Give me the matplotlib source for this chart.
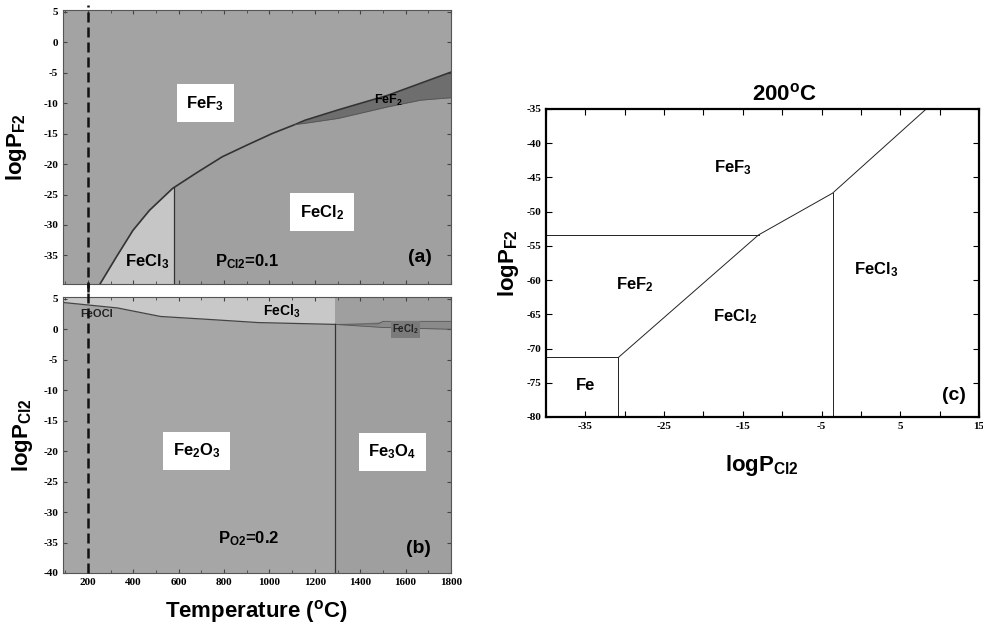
import numpy as np
import matplotlib
matplotlib.use("Agg")
import matplotlib.pyplot as plt

plt.rcParams['font.family'] = ['Liberation Sans', 'DejaVu Sans']
plt.rcParams['mathtext.fontset'] = 'custom'
plt.rcParams['mathtext.rm'] = 'Liberation Sans:bold'
plt.rcParams['mathtext.it'] = 'Liberation Sans:bold'
plt.rcParams['mathtext.bf'] = 'Liberation Sans:bold'
plt.rcParams['axes.unicode_minus'] = False

# ---- (a) logPF2 vs T, PCl2 = 0.1 ----
t_fef3 = [253, 326, 398, 471, 573, 676, 792, 900, 1011, 1113, 1157, 1303, 1522, 1800]
p_fef3 = [-39.7, -35.2, -30.9, -27.6, -24.0, -21.5, -18.8, -16.9, -15.0, -13.5, -12.8, -11.1, -8.7, -4.9]
t_fef2 = [1113, 1157, 1303, 1522, 1667, 1800]
p_fef2 = [-13.5, -13.3, -12.5, -10.6, -9.5, -9.1]
t_fecl3_a = 580

# ---- (b) logPCl2 vs T, PO2 = 0.2 ----
t_top_b = [90, 330, 520, 740, 950, 1290]
p_top_b = [4.4, 3.5, 2.1, 1.6, 1.1, 0.8]
t_cl3cl2 = [1290, 1480, 1500, 1800]
p_cl3cl2 = [0.8, 0.9, 1.3, 1.3]
t_cl2ox = [1290, 1500, 1800]
p_cl2ox = [0.8, 0.3, 0.0]
t_fe3o4 = 1290

# ---- (c) 200 C stability diagram ----
fe_x = [-40, -30.8, -30.8]
fe_y = [-71.3, -71.3, -80]
fef2_x = [-40, -13.0]
fef2_y = [-53.4, -53.4]
diag_x = [-30.8, -13.0, -3.6, 8.3]
diag_y = [-71.3, -53.4, -47.3, -35]
vert_x = [-3.6, -3.6]
vert_y = [-47.3, -80]

xlim_t = (90, 1800)
t_ticks = [200, 400, 600, 800, 1000, 1200, 1400, 1600, 1800]

fig = plt.figure(figsize=(9.83, 6.30), dpi=100)
ax_a = fig.add_axes([0.0641, 0.5492, 0.3947, 0.4349])
ax_b = fig.add_axes([0.0641, 0.0905, 0.3947, 0.4381])
ax_c = fig.add_axes([0.5554, 0.3381, 0.4405, 0.4889])

tick_font = dict(family='Liberation Serif', size=8, weight='bold')
lab_kw = dict(fontsize=12, fontweight='bold')
box = dict(facecolor='white', edgecolor='none', pad=7)

# panel (a)
ax_a.set_facecolor('#a3a3a3')
tt = np.array(t_fef3)
pp = np.array(p_fef3)
ax_a.fill_between(tt, -40, pp, color='#a0a0a0', lw=0)
tm = np.append(tt[tt < t_fecl3_a], t_fecl3_a)
pm = np.interp(tm, t_fef3, p_fef3)
ax_a.fill_between(tm, -40, pm, color='#c6c6c6', lw=0)
p_up = np.interp(t_fef2, t_fef3, p_fef3)
ax_a.fill_between(t_fef2, p_fef2, p_up, color='#6e6e6e', lw=0)
ax_a.plot(t_fef3, p_fef3, color='#333333', lw=1.2)
ax_a.plot(t_fef2, p_fef2, color='#555555', lw=0.6)
ax_a.plot([t_fecl3_a, t_fecl3_a], [-40, np.interp(t_fecl3_a, t_fef3, p_fef3)], color='#333333', lw=0.9)
ax_a.set_xlim(*xlim_t)
ax_a.set_ylim(-39.7, 5.3)
ax_a.set_yticks([5, 0, -5, -10, -15, -20, -25, -30, -35])
ax_a.set_xticks(t_ticks)
ax_a.set_xticks(np.arange(100, 1800, 100), minor=True)
ax_a.tick_params(axis='x', labelbottom=False)
ax_a.text(717, -10, 'FeF$_3$', ha='center', va='center', bbox=box, **lab_kw)
ax_a.text(1231, -27.9, 'FeCl$_2$', ha='center', va='center', bbox=box, **lab_kw)
ax_a.text(463, -36.1, 'FeCl$_3$', ha='center', va='center', **lab_kw)
ax_a.text(902, -36, 'P$_{Cl2}$=0.1', ha='center', va='center', **lab_kw)
ax_a.text(1525, -9.5, 'FeF$_2$', ha='center', va='center', fontsize=9, fontweight='bold')
ax_a.text(1665, -35.3, '(a)', ha='center', va='center', fontsize=14, fontweight='bold')
ax_a.set_ylabel('logP$_{F2}$', fontsize=16, fontweight='bold', labelpad=10)

# panel (b)
ax_b.set_facecolor('#a6a6a6')
ax_b.fill_between(t_top_b, p_top_b, 5.3, color='#c8c8c8', lw=0)
ax_b.fill_between(t_cl3cl2, p_cl3cl2, 5.3, color='#c8c8c8', lw=0)
ax_b.axvspan(t_fe3o4, 1800, color='#9f9f9f', lw=0)
ax_b.fill_between(t_cl2ox, np.interp(t_cl2ox, t_cl3cl2, p_cl3cl2), p_cl2ox, color='#8a8a8a', lw=0)
ax_b.plot(t_top_b, p_top_b, color='#444444', lw=0.9)
ax_b.plot(t_cl3cl2, p_cl3cl2, color='#555555', lw=0.6)
ax_b.plot(t_cl2ox, p_cl2ox, color='#555555', lw=0.6)
ax_b.plot([t_fe3o4, t_fe3o4], [-40, p_top_b[-1]], color='#333333', lw=0.9)
ax_b.set_xlim(*xlim_t)
ax_b.set_ylim(-40, 5.3)
ax_b.set_yticks(np.arange(5, -41, -5))
ax_b.set_xticks(t_ticks)
ax_b.set_xticks(np.arange(100, 1800, 100), minor=True)
ax_b.text(678, -19.9, 'Fe$_2$O$_3$', ha='center', va='center', bbox=box, **lab_kw)
ax_b.text(1542, -20.1, 'Fe$_3$O$_4$', ha='center', va='center', bbox=box, **lab_kw)
ax_b.text(910, -34.3, 'P$_{O2}$=0.2', ha='center', va='center', **lab_kw)
ax_b.text(1656, -36, '(b)', ha='center', va='center', fontsize=14, fontweight='bold')
ax_b.text(1055, 2.9, 'FeCl$_3$', ha='center', va='center', fontsize=10, fontweight='bold')
ax_b.text(238, 2.5, 'FeOCl', ha='center', va='center', fontsize=8, fontweight='bold', color='#222222')
ax_b.text(1600, 0.0, 'FeCl$_2$', ha='center', va='center', fontsize=7, fontweight='bold',
          color='#222222', bbox=dict(facecolor='#7a7a7a', edgecolor='none', pad=1))
ax_b.set_ylabel('logP$_{Cl2}$', fontsize=16, fontweight='bold', labelpad=6)
ax_b.set_xlabel('Temperature ($^{o}$C)', fontsize=16, fontweight='bold', labelpad=8)

for ax in (ax_a, ax_b):
    for s in ax.spines.values():
        s.set_color('#555555')
        s.set_linewidth(0.8)
    ax.tick_params(which='both', direction='in', top=True, right=True, color='#444444', length=3)
    ax.tick_params(which='minor', length=2)
    for lab in ax.get_xticklabels() + ax.get_yticklabels():
        lab.set(**tick_font)
    ax.axvline(200, ymin=-0.03 if ax is ax_a else 0, ymax=1.02 if ax is ax_a else 1.05,
               color='#111111', lw=1.8, ls=(0, (4, 2)), clip_on=False, zorder=5)

# panel (c)
for xs, ys in ((fe_x, fe_y), (fef2_x, fef2_y), (diag_x, diag_y), (vert_x, vert_y)):
    ax_c.plot(xs, ys, color='#222222', lw=0.7)
ax_c.set_xlim(-40, 15)
ax_c.set_ylim(-80, -35)
ax_c.set_xticks([-35, -25, -15, -5, 5, 15])
ax_c.set_xticks(np.arange(-40, 15, 5), minor=True)
ax_c.set_yticks(np.arange(-35, -81, -5))
ax_c.tick_params(which='both', direction='in', top=True, right=True, length=4, width=0.8)
for s in ax_c.spines.values():
    s.set_linewidth(1.6)
for lab in ax_c.get_xticklabels() + ax_c.get_yticklabels():
    lab.set(**tick_font)
ax_c.text(-16.2, -43.5, 'FeF$_3$', ha='center', va='center', **lab_kw)
ax_c.text(-28.7, -60.7, 'FeF$_2$', ha='center', va='center', **lab_kw)
ax_c.text(-16, -65.4, 'FeCl$_2$', ha='center', va='center', **lab_kw)
ax_c.text(1.9, -58.5, 'FeCl$_3$', ha='center', va='center', **lab_kw)
ax_c.text(-35, -75.4, 'Fe', ha='center', va='center', **lab_kw)
ax_c.text(11.8, -76.8, '(c)', ha='center', va='center', fontsize=14, fontweight='bold')
ax_c.set_ylabel('logP$_{F2}$', fontsize=16, fontweight='bold', labelpad=4)
ax_c.set_xlabel('logP$_{Cl2}$', fontsize=16, fontweight='bold', labelpad=16)
ax_c.set_title('200$^{o}$C', fontsize=16, fontweight='bold', pad=6, x=0.55)

fig.savefig('out.png', dpi=100)
